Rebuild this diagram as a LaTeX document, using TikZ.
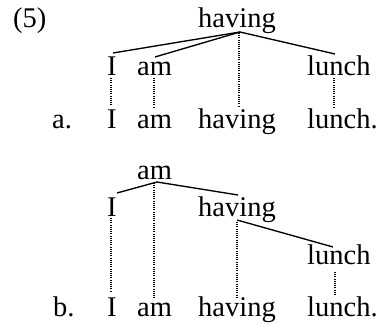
\documentclass[tikz,border=0pt]{standalone}
\usepackage{fontspec}
\setmainfont{Liberation Serif}
\begin{document}
\begin{tikzpicture}[x=1pt,y=-1pt,
  word/.style={anchor=base west,inner sep=0pt,font=\fontsize{28.5}{30}\selectfont},
  branch/.style={line width=1.35pt},
  link/.style={line width=1.05pt,dash pattern=on 1pt off 1.2pt}]
\useasboundingbox (0,0) rectangle (378,323);
% (5a)
\node[word] (p5) at (13,28) {(5)};
\node[word] (ha) at (198,28) {having};
\node[word] (Ia) at (107,76) {I};
\node[word] (ama) at (137,76) {am};
\node[word] (lua) at (307,76) {lunch};
\node[word] (la) at (52,129) {a.};
\node[word] (sIa) at (107,129) {I};
\node[word] (sama) at (137,129) {am};
\node[word] (shva) at (198,129) {having};
\node[word] (slua) at (307,129) {lunch.};
\coordinate (ra) at (240,32);
\coordinate (tIa) at (113,53);
\coordinate (tama) at (155,57);
\coordinate (tlua) at (335,54);
\draw[branch] (ra) -- (tIa);
\draw[branch] (ra) -- (tama);
\draw[branch] (ra) -- (tlua);
\coordinate (dha1) at (239,33);
\coordinate (dha2) at (239,106);
\coordinate (dIa1) at (111,78);
\coordinate (dIa2) at (111,106);
\coordinate (dama1) at (154,78);
\coordinate (dama2) at (154,107);
\coordinate (dlua1) at (334,78);
\coordinate (dlua2) at (334,107);
\draw[link] (dha1) -- (dha2);
\draw[link] (dIa1) -- (dIa2);
\draw[link] (dama1) -- (dama2);
\draw[link] (dlua1) -- (dlua2);
% (5b)
\node[word] (amb) at (137,180) {am};
\node[word] (Ib) at (107,217) {I};
\node[word] (hvb) at (198,217) {having};
\node[word] (lub) at (307,265) {lunch};
\node[word] (lb) at (53,317) {b.};
\node[word] (sIb) at (107,317) {I};
\node[word] (samb) at (137,317) {am};
\node[word] (shvb) at (198,317) {having};
\node[word] (slub) at (307,317) {lunch.};
\coordinate (rb) at (157,182);
\coordinate (tIb) at (117,193);
\coordinate (thvb) at (238,195);
\draw[branch] (rb) -- (tIb);
\draw[branch] (rb) -- (thvb);
\coordinate (rh) at (237,220);
\coordinate (tlub) at (333,247);
\draw[branch] (rh) -- (tlub);
\coordinate (damb1) at (154,183);
\coordinate (damb2) at (154,298);
\coordinate (dIb1) at (111,218);
\coordinate (dIb2) at (111,292);
\coordinate (dhvb1) at (237,222);
\coordinate (dhvb2) at (237,297);
\coordinate (dlub1) at (335,272);
\coordinate (dlub2) at (335,296);
\draw[link] (damb1) -- (damb2);
\draw[link] (dIb1) -- (dIb2);
\draw[link] (dhvb1) -- (dhvb2);
\draw[link] (dlub1) -- (dlub2);
\end{tikzpicture}
\end{document}
